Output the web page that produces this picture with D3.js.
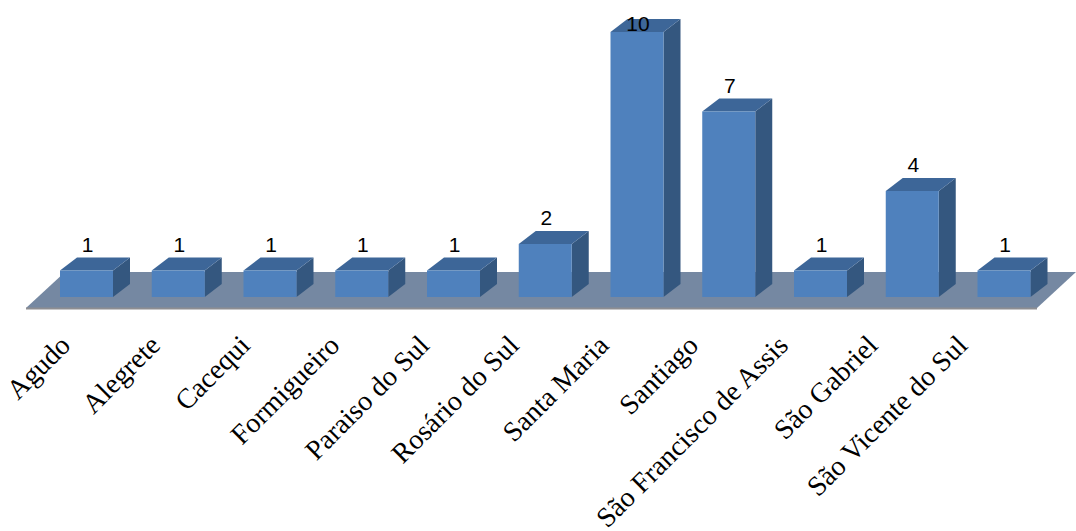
<!DOCTYPE html>
<html>
<head>
<meta charset="utf-8">
<script src="https://cdn.jsdelivr.net/npm/d3@7"></script>
<style>
  html, body { margin: 0; padding: 0; background: #ffffff; }
  svg { display: block; }
</style>
</head>
<body>
<svg id="chart" width="1076" height="531"></svg>
<script>
const categories = ["Agudo", "Alegrete", "Cacequi", "Formigueiro", "Paraiso do Sul", "Rosário do Sul", "Santa Maria", "Santiago", "São Francisco de Assis", "São Gabriel", "São Vicente do Sul"];
const values = [1, 1, 1, 1, 1, 2, 10, 7, 1, 4, 1];

const W = 1076, H = 531;
const svg = d3.select("#chart");

const barW = 53;
const depthX = 17, depthY = -13;
const x = d3.scalePoint().domain(categories).range([86.5, 1004]);
const xLabel = d3.scalePoint().domain(categories).range([72, 969]);
const y = d3.scaleLinear().domain([0, 10]).range([297, 32]);

const colFront = "#4f81bd", colSide = "#34577f", colTop = "#3d6698";

// floor
const floorFrontY = 308, floorBackY = 272;
const floorL = 26, floorR = 1037, floorDX = 39;
svg.append("path")
  .attr("d", `M${floorL},${floorFrontY} L${floorL + floorDX},${floorBackY} L${floorR + floorDX},${floorBackY} L${floorR},${floorFrontY} Z`)
  .attr("fill", "#7588a2");
svg.append("line")
  .attr("x1", floorL).attr("x2", floorR)
  .attr("y1", floorFrontY + 0.5).attr("y2", floorFrontY + 0.5)
  .attr("stroke", "#8e8e92").attr("stroke-width", 2);

const g = svg.append("g");
categories.forEach((c, i) => {
  const cx = x(c);
  const x0 = cx - barW / 2, x1 = cx + barW / 2;
  const yb = y(0), yt = y(values[i]);
  g.append("path")
    .attr("d", `M${x1},${yb} L${x1 + depthX},${yb + depthY} L${x1 + depthX},${yt + depthY} L${x1},${yt} Z`)
    .attr("fill", colSide);
  g.append("path")
    .attr("d", `M${x0},${yt} L${x0 + depthX},${yt + depthY} L${x1 + depthX},${yt + depthY} L${x1},${yt} Z`)
    .attr("fill", colTop);
  g.append("rect")
    .attr("x", x0).attr("y", yt)
    .attr("width", barW).attr("height", yb - yt)
    .attr("fill", colFront);
  g.append("text")
    .attr("x", cx + 1)
    .attr("y", Math.max(yt + depthY - 6, 31))
    .attr("text-anchor", "middle")
    .attr("font-family", "Liberation Sans, Arial, sans-serif")
    .attr("font-size", 21)
    .attr("fill", "#000")
    .text(values[i]);
});

// category labels
categories.forEach((c) => {
  svg.append("text")
    .attr("transform", `translate(${xLabel(c)},347) rotate(-45)`)
    .attr("text-anchor", "end")
    .attr("font-family", "Liberation Serif, 'Times New Roman', serif")
    .attr("font-size", 28)
    .attr("fill", "#000")
    .text(c);
});
</script>
</body>
</html>
